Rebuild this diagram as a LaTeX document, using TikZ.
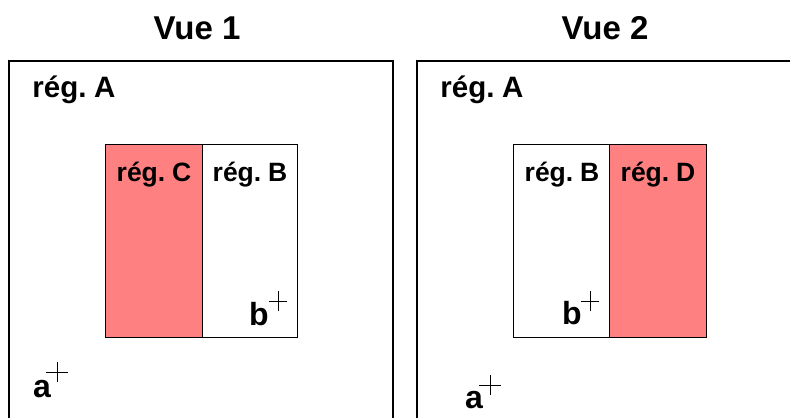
\documentclass[tikz,border=0pt]{standalone}
\usepackage{fontspec}
\setmainfont[WordSpace=0.6]{Liberation Sans}
\newfontfamily\titlefont{Liberation Sans}
\definecolor{regred}{HTML}{FF8080}
\begin{document}
\begin{tikzpicture}[x=1pt,y=-1pt,
  frame/.style={draw=black,line width=1.2pt},
  region/.style={draw=black,line width=1pt},
  title/.style={font=\titlefont\fontsize{33}{33}\selectfont\bfseries,anchor=base,inner sep=0},
  rega/.style={font=\fontsize{29.5}{29.5}\selectfont\bfseries,anchor=base,inner sep=0},
  regl/.style={font=\fontsize{26.5}{26.5}\selectfont\bfseries,anchor=base,inner sep=0},
  pt/.style={font=\fontsize{32}{32}\selectfont\bfseries,anchor=base,inner sep=0},
  cross/.style={line width=0.8pt}]
\useasboundingbox (0,0) rectangle (790,418);
% titles
\node[title] (t1) at (197,39) {Vue 1};
\node[title] (t2) at (605,39) {Vue 2};
% frames
\draw[frame] (9,418) -- (9,61) -- (393,61) -- (393,418);
\draw[frame] (417,418) -- (417,61) -- (790,61);
% view 1 regions
\fill[regred] (105,144) rectangle (202,337);
\draw[region] (105,144) rectangle (297,337);
\draw[region] (202,144) -- (202,337);
% view 2 regions
\fill[regred] (609,144) rectangle (706,337);
\draw[region] (513,144) rectangle (706,337);
\draw[region] (609,144) -- (609,337);
% labels
\node[rega] (a1) at (74,97) {rég. A};
\node[rega] (a2) at (482,97) {rég. A};
\node[regl] (c1) at (154,181) {rég. C};
\node[regl] (b1) at (250,181) {rég. B};
\node[regl] (b2) at (562,181) {rég. B};
\node[regl] (d2) at (658,181) {rég. D};
% points
\node[pt] (pa1) at (42,397) {a};
\coordinate (xa1) at (57,372);
\draw[cross] ([xshift=-11pt]xa1) -- ([xshift=11pt]xa1) ([yshift=-10pt]xa1) -- ([yshift=10pt]xa1);
\node[pt] (pb1) at (259,325) {b};
\coordinate (xb1) at (278,301);
\draw[cross] ([xshift=-9pt]xb1) -- ([xshift=9pt]xb1) ([yshift=-10pt]xb1) -- ([yshift=10pt]xb1);
\node[pt] (pa2) at (474,408) {a};
\coordinate (xa2) at (490,385);
\draw[cross] ([xshift=-11pt]xa2) -- ([xshift=11pt]xa2) ([yshift=-10pt]xa2) -- ([yshift=10pt]xa2);
\node[pt] (pb2) at (572,324) {b};
\coordinate (xb2) at (590,301);
\draw[cross] ([xshift=-9pt]xb2) -- ([xshift=9pt]xb2) ([yshift=-10pt]xb2) -- ([yshift=10pt]xb2);
\end{tikzpicture}
\end{document}
